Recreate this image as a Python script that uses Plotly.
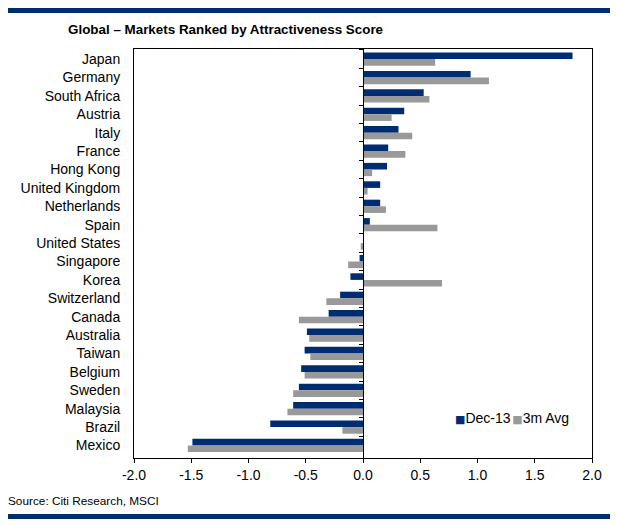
import plotly.graph_objects as go

countries = ["Japan", "Germany", "South Africa", "Austria", "Italy", "France", "Hong Kong",
             "United Kingdom", "Netherlands", "Spain", "United States", "Singapore", "Korea",
             "Switzerland", "Canada", "Australia", "Taiwan", "Belgium", "Sweden", "Malaysia",
             "Brazil", "Mexico"]
dec13 = [1.83, 0.94, 0.53, 0.36, 0.31, 0.22, 0.21, 0.15, 0.15, 0.06, 0.0, -0.03, -0.11,
         -0.20, -0.30, -0.49, -0.51, -0.54, -0.56, -0.61, -0.81, -1.49]
avg3m = [0.63, 1.10, 0.58, 0.25, 0.43, 0.37, 0.08, 0.04, 0.20, 0.65, -0.02, -0.13, 0.69,
         -0.32, -0.56, -0.47, -0.46, -0.51, -0.61, -0.66, -0.18, -1.53]
xticks = [-2.0, -1.5, -1.0, -0.5, 0.0, 0.5, 1.0, 1.5, 2.0]

NAVY = "#002D72"
GREY = "#999999"
FONT = "Liberation Sans, Arial, sans-serif"

OFF = 8  # page body margin
W, H = 618 - OFF, 525 - OFF
L, T = 134 - OFF, 49 - OFF
R, B = W - (592 - OFF), H - (458 - OFF)
PW, PH = W - L - R, H - T - B


def px(x):  # reference-pixel x -> paper fraction
    return (x - OFF - L) / PW


def py(y):  # reference-pixel y -> paper fraction
    return (H - B - (y - OFF)) / PH


n = len(countries)

fig = go.Figure()
fig.add_trace(go.Bar(y=countries, x=dec13, orientation="h", name="Dec-13",
                     marker=dict(color=NAVY, line=dict(width=0))))
fig.add_trace(go.Bar(y=countries, x=avg3m, orientation="h", name="3m Avg",
                     marker=dict(color=GREY, line=dict(width=0))))
# helper trace carrying the zero-line axis with boundary ticks
fig.add_trace(go.Scatter(y=countries, x=[0] * n, yaxis="y2", mode="markers",
                         marker=dict(size=0.1, opacity=0), showlegend=False, hoverinfo="skip"))

sq = 'font-family:DejaVu Sans;font-size:11px;color:{}'
sp = 'font-size:6px'
legend_text = (f'<span style="{sq.format(NAVY)}">■</span>Dec-13'
               f'<span style="{sp}"> </span><span style="{sq.format(GREY)}">■</span>3m Avg')

yrange = [n - 0.5 + 0.18, -0.5 - 0.05]

fig.update_layout(
    width=W, height=H,
    margin=dict(l=L, r=R, t=T, b=B, autoexpand=False),
    paper_bgcolor="white", plot_bgcolor="white",
    font=dict(family=FONT, size=14, color="black"),
    barmode="group", bargap=0.28, bargroupgap=0,
    showlegend=False,
    xaxis=dict(range=[-2, 2], tickvals=xticks, ticktext=[f"{v:.1f}" for v in xticks],
               showgrid=False, zeroline=False, showline=True, linecolor="black", linewidth=1,
               mirror=True, ticks="outside", ticklen=4, tickcolor="black", automargin=False,
               tickfont=dict(size=14, family=FONT)),
    yaxis=dict(range=yrange, type="category", showgrid=False, zeroline=False,
               showline=True, linecolor="black", linewidth=1, mirror=True, ticks="",
               ticklabelstandoff=10, automargin=False, tickfont=dict(size=14, family=FONT)),
    yaxis2=dict(overlaying="y", anchor="free", position=0.5, side="left", matches="y",
                type="category", showline=True, linecolor="black", linewidth=1,
                ticks="outside", ticklen=4, tickcolor="black", tickson="boundaries",
                showticklabels=False, showgrid=False, zeroline=False, automargin=False),
    shapes=[
        dict(type="rect", xref="paper", yref="paper", x0=px(4), x1=px(613),
             y0=py(13), y1=py(6), fillcolor=NAVY, line=dict(width=0)),
        dict(type="rect", xref="paper", yref="paper", x0=px(4), x1=px(613),
             y0=py(519), y1=py(514), fillcolor=NAVY, line=dict(width=0)),
    ],
    annotations=[
        dict(text="<b>Global – Markets Ranked by Attractiveness Score</b>", xref="paper", yref="paper",
             x=px(66), y=py(29), xanchor="left", yanchor="middle",
             showarrow=False, font=dict(size=13.4, family=FONT)),
        dict(text="Source: Citi Research, MSCI", xref="paper", yref="paper",
             x=px(6), y=py(501), xanchor="left", yanchor="middle",
             showarrow=False, font=dict(size=11.8, family=FONT)),
        dict(text=legend_text, xref="paper", yref="paper", x=px(453), y=py(418),
             xanchor="left", yanchor="middle", showarrow=False, font=dict(size=14, family=FONT)),
    ],
)

fig.write_html("out.html")
